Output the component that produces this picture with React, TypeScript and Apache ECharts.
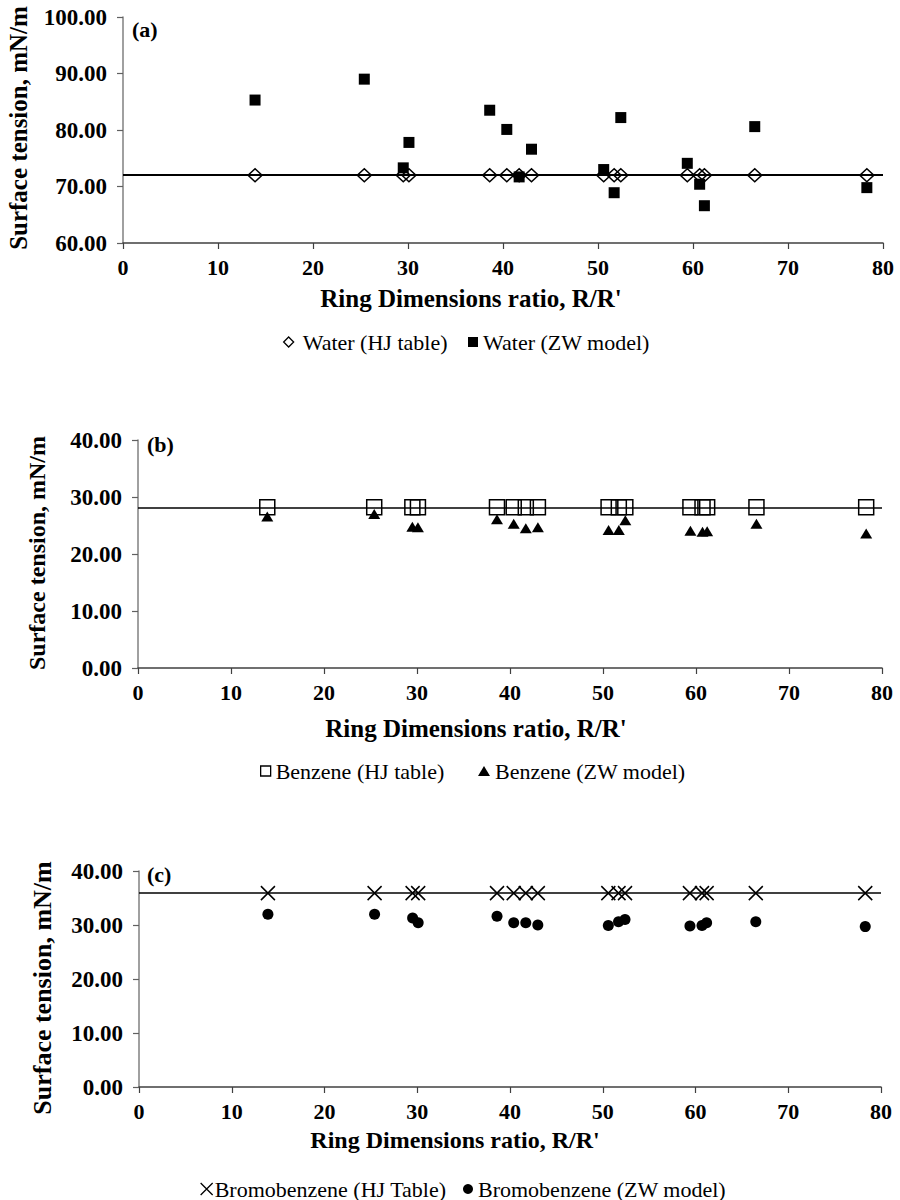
import React, { useEffect, useRef } from "react";
import * as echarts from "echarts";

// Ring dimension ratio R/R' (shared by all panels)
const ringRatio = [13.9, 25.4, 29.5, 30.1, 38.6, 40.4, 41.7, 43.0, 50.6, 51.7, 52.4, 59.4, 60.7, 61.2, 66.5, 78.3];

// (a) Water
const waterHJValue = 72.0;
const waterZW = [85.3, 89.0, 73.3, 77.8, 83.5, 80.1, 71.7, 76.6, 73.0, 68.9, 82.2, 74.1, 70.4, 66.6, 80.6, 69.8];

// (b) Benzene
const benzeneHJValue = 28.2;
const benzeneZW = [26.6, 27.0, 24.8, 24.7, 26.1, 25.3, 24.5, 24.7, 24.2, 24.2, 25.9, 24.1, 23.9, 24.0, 25.3, 23.6];

// (c) Bromobenzene
const bromoHJValue = 35.9;
const bromoZW = [32.0, 32.0, 31.3, 30.4, 31.6, 30.4, 30.4, 30.0, 29.9, 30.6, 31.0, 29.8, 29.9, 30.4, 30.6, 29.7];

const yRanges = [
  [60, 100],
  [0, 40],
  [0, 40],
];
const xTicks = { min: 0, max: 80, interval: 10 };

const panelLabels = ["(a)", "(b)", "(c)"];
const xTitle = "Ring Dimensions ratio, R/R'";
const yTitle = "Surface tension, mN/m";
const legendNames = [
  ["Water (HJ table)", "Water (ZW model)"],
  ["Benzene (HJ table)", "Benzene (ZW model)"],
  ["Bromobenzene (HJ Table)", "Bromobenzene (ZW model)"],
];

const FONT = '"Liberation Serif", "Times New Roman", serif';
const CROSS = "path://M0 0L10 10M10 0L0 10";

export default function App() {
  const ref = useRef<HTMLDivElement>(null);

  useEffect(() => {
    if (!ref.current) return;
    const chart = echarts.init(ref.current, null, { renderer: "svg" });

    const grids = [
      { left: 123, top: 17, width: 760, height: 226 },
      { left: 138, top: 440, width: 744, height: 228 },
      { left: 139, top: 871, width: 742, height: 216 },
    ];

    const hjValues = [waterHJValue, benzeneHJValue, bromoHJValue];
    const zwValues = [waterZW, benzeneZW, bromoZW];

    const hjSymbols = [
      { symbol: "diamond", size: [14, 13] },
      { symbol: "rect", size: 15 },
      { symbol: CROSS, size: 14 },
    ];
    const zwSymbols = [
      { symbol: "rect", size: 11 },
      { symbol: "triangle", size: [12, 10] },
      { symbol: "circle", size: 11 },
    ];

    const series: any[] = [];
    for (let i = 0; i < 3; i++) {
      series.push({
        name: legendNames[i][0],
        type: "scatter",
        xAxisIndex: i,
        yAxisIndex: i,
        symbol: hjSymbols[i].symbol,
        symbolSize: hjSymbols[i].size,
        itemStyle: { color: "rgba(0,0,0,0)", borderColor: "#000", borderWidth: 1.5, opacity: 1 },
        data: ringRatio.map((x) => [x, hjValues[i]]),
        markLine: {
          silent: true,
          symbol: ["none", "none"],
          label: { show: false },
          lineStyle: { color: "#000", width: i === 0 ? 2 : 1.6, type: "solid", opacity: 1 },
          data: [{ yAxis: hjValues[i] }],
        },
        z: 3,
      });
      series.push({
        name: legendNames[i][1],
        type: "scatter",
        xAxisIndex: i,
        yAxisIndex: i,
        symbol: zwSymbols[i].symbol,
        symbolSize: zwSymbols[i].size,
        itemStyle: { color: "#000", opacity: 1 },
        data: ringRatio.map((x, k) => [x, zwValues[i][k]]),
        z: 4,
      });
    }

    const xAxes = grids.map((_, i) => ({
      type: "value",
      gridIndex: i,
      min: xTicks.min,
      max: xTicks.max,
      interval: xTicks.interval,
      axisLine: { show: true, onZero: false, lineStyle: { color: "#404040", width: 1.5 } },
      axisTick: { show: true, length: 6, lineStyle: { color: "#404040", width: 1.2 } },
      axisLabel: { fontFamily: FONT, fontWeight: "bold", fontSize: 22, color: "#000", margin: 13 },
      splitLine: { show: false },
    }));

    const yAxes = grids.map((_, i) => ({
      type: "value",
      gridIndex: i,
      min: yRanges[i][0],
      max: yRanges[i][1],
      interval: 10,
      axisLine: { show: true, lineStyle: { color: "#808080", width: 1.5 } },
      axisTick: { show: true, length: 6, lineStyle: { color: "#606060", width: 1.2 } },
      axisLabel: {
        fontFamily: FONT,
        fontWeight: "bold",
        fontSize: 23,
        color: "#000",
        margin: 16,
        formatter: (v: number) => v.toFixed(2),
      },
      splitLine: { show: false },
    }));

    // one legend per item, so each can be placed where the reference has it
    const legendItems = [
      { name: legendNames[0][0], left: 283, cy: 342, w: 10, h: 10, pad: 4 },
      { name: legendNames[0][1], left: 468, cy: 342, w: 10, h: 10, pad: 0 },
      { name: legendNames[1][0], left: 260, cy: 771, w: 10, h: 10, pad: 0 },
      { name: legendNames[1][1], left: 478, cy: 771, w: 12, h: 10, pad: 0 },
      { name: legendNames[2][0], left: 200, cy: 1189, w: 12, h: 12, pad: -3 },
      { name: legendNames[2][1], left: 463, cy: 1189, w: 10, h: 10, pad: 0 },
    ];
    const legends = legendItems.map((it) => ({
      orient: "horizontal",
      left: it.left,
      top: it.cy - 13,
      itemWidth: it.w,
      itemHeight: it.h,
      padding: 0,
      itemStyle: { borderWidth: 1.3 },
      textStyle: {
        fontFamily: FONT,
        fontSize: 22,
        color: "#000",
        lineHeight: 26,
        padding: [0, 0, 0, it.pad],
      },
      data: [it.name],
      selectedMode: false,
    }));

    const xTitlePos = [
      [471, 298, 25],
      [476, 728, 25],
      [455, 1140, 24],
    ];
    const yTitlePos = [
      [18, 128, 25],
      [37, 553, 24],
      [42, 988, 26],
    ];
    const labelPos = [
      [132, 29],
      [147, 444],
      [147, 874],
    ];
    const graphics: any[] = [];
    for (let i = 0; i < 3; i++) {
      graphics.push({
        type: "text",
        x: xTitlePos[i][0],
        y: xTitlePos[i][1],
        style: {
          text: xTitle,
          fill: "#000",
          font: `bold ${xTitlePos[i][2]}px ${FONT}`,
          align: "center",
          verticalAlign: "middle",
        },
      });
      graphics.push({
        type: "text",
        x: yTitlePos[i][0],
        y: yTitlePos[i][1],
        rotation: Math.PI / 2,
        style: {
          text: yTitle,
          fill: "#000",
          font: `bold ${yTitlePos[i][2]}px ${FONT}`,
          align: "center",
          verticalAlign: "middle",
        },
      });
      graphics.push({
        type: "text",
        x: labelPos[i][0],
        y: labelPos[i][1],
        style: {
          text: panelLabels[i],
          fill: "#000",
          font: `bold 22px ${FONT}`,
          align: "left",
          verticalAlign: "middle",
        },
      });
    }

    chart.setOption({
      animation: false,
      backgroundColor: "#fff",
      grid: grids,
      xAxis: xAxes,
      yAxis: yAxes,
      legend: legends,
      series,
      graphic: graphics,
    });

    return () => chart.dispose();
  }, []);

  return (
    <div
      ref={ref}
      style={{ position: "absolute", left: 0, top: 0, width: 900, height: 1200 }}
    />
  );
}
